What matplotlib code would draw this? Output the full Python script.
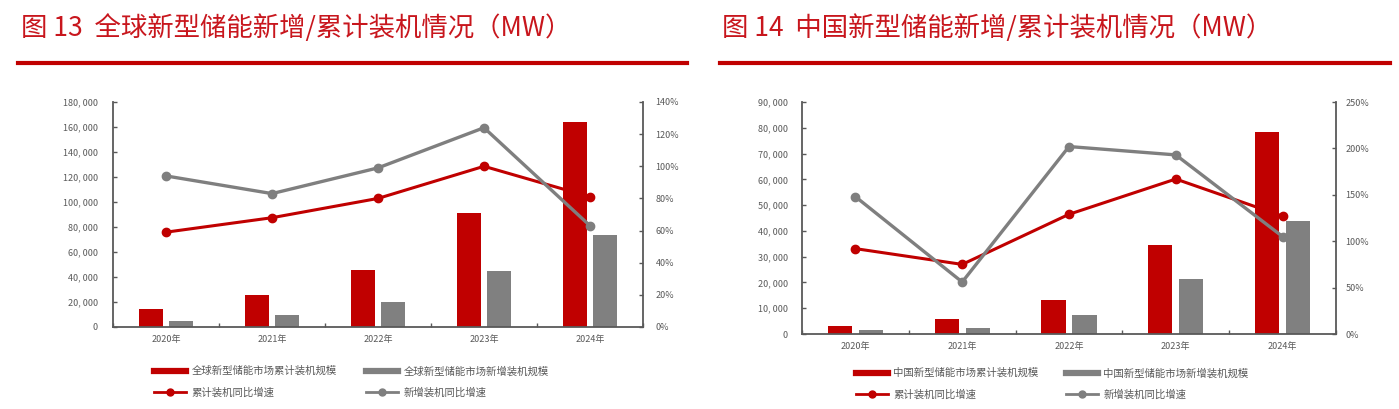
import matplotlib
matplotlib.use("Agg")
import matplotlib.pyplot as plt
from matplotlib.lines import Line2D
from matplotlib.ticker import FuncFormatter, MultipleLocator, FixedLocator
import numpy as np

plt.rcParams['font.family'] = ['Noto Sans CJK SC', 'DejaVu Sans']

# ---------------- data ----------------
years = ['2020年', '2021年', '2022年', '2023年', '2024年']

global_cum = [14200, 25400, 45700, 91300, 164300]
global_new = [5000, 9800, 20000, 45000, 73700]
global_cum_yoy = [59, 68, 80, 100, 81]
global_new_yoy = [94, 83, 99, 124, 63]

china_cum = [3280, 5730, 13100, 34500, 78300]
china_new = [1600, 2450, 7300, 21500, 43700]
china_cum_yoy = [92, 75, 129, 167, 127]
china_new_yoy = [148, 56, 202, 193, 105]

titles = ['图 13  全球新型储能新增/累计装机情况（MW）',
          '图 14  中国新型储能新增/累计装机情况（MW）']
labels_global = ['全球新型储能市场累计装机规模', '全球新型储能市场新增装机规模',
                 '累计装机同比增速', '新增装机同比增速']
labels_china = ['中国新型储能市场累计装机规模', '中国新型储能市场新增装机规模',
                '累计装机同比增速', '新增装机同比增速']

RED = '#C00000'
GRAY = '#808080'
LGRAY = '#7F7F7F'
SPINE = '#595959'
TXT = '#595959'
TITLE_RED = '#C8161D'

W, H = 1399, 409
fig = plt.figure(figsize=(W / 100, H / 100), dpi=100)


def fx(px):
    return px / W


def fy(py):
    return 1 - py / H


def draw_panel(rect, cum, new, cum_yoy, new_yoy, ymax, ystep, pmax, pstep,
               lpad, rpad):
    ax = fig.add_axes(rect)
    ax2 = ax.twinx()
    x = np.arange(len(years))
    bw = 0.225
    off = 0.145
    ax.bar(x - off, cum, width=bw, color=RED, zorder=2)
    ax.bar(x + off, new, width=bw, color=GRAY, zorder=2)
    ax2.plot(x, cum_yoy, color=RED, lw=2.2, marker='o', ms=6, zorder=3)
    ax2.plot(x, new_yoy, color=LGRAY, lw=2.4, marker='o', ms=6, zorder=4)

    ax.set_xlim(-0.5, len(years) - 0.5)
    ax.set_ylim(0, ymax)
    ax2.set_ylim(0, pmax)
    ax.yaxis.set_major_locator(MultipleLocator(ystep))
    ax2.yaxis.set_major_locator(MultipleLocator(pstep))
    ax.yaxis.set_major_formatter(FuncFormatter(
        lambda v, p: f"{int(round(v)):,}".replace(",", ", ")))
    ax2.yaxis.set_major_formatter(FuncFormatter(lambda v, p: f"{int(round(v))}%"))

    ax.set_xticks(x)
    ax.set_xticklabels(years)
    ax.xaxis.set_minor_locator(FixedLocator(np.arange(len(years) + 1) - 0.5))
    ax.tick_params(axis='x', which='major', length=0, pad=6, labelsize=6.5,
                   labelcolor=TXT)
    ax.tick_params(axis='x', which='minor', length=3, direction='in',
                   color=SPINE, width=1)
    ax.tick_params(axis='y', direction='in', length=3, width=1, color=SPINE,
                   pad=lpad, labelsize=6.5, labelcolor=TXT)
    ax2.tick_params(axis='y', direction='in', length=3, width=1, color=SPINE,
                    pad=rpad, labelsize=6.5, labelcolor=TXT)

    for s in ['top', 'right']:
        ax.spines[s].set_visible(False)
    for s in ['top', 'left', 'bottom']:
        ax2.spines[s].set_visible(False)
    for a, s in [(ax, 'left'), (ax, 'bottom'), (ax2, 'right')]:
        a.spines[s].set_color(SPINE)
        a.spines[s].set_linewidth(1.3)
    return ax, ax2


def draw_legend(x_cols, y_top, labels):
    h_bar_r = Line2D([], [], color=RED, lw=4.5)
    h_bar_g = Line2D([], [], color=GRAY, lw=4.5)
    h_ln_r = Line2D([], [], color=RED, lw=2, marker='o', ms=5)
    h_ln_g = Line2D([], [], color=LGRAY, lw=2, marker='o', ms=5)
    cols = [([h_bar_r, h_ln_r], [labels[0], labels[2]]),
            ([h_bar_g, h_ln_g], [labels[1], labels[3]])]
    for xc, (hs, ls) in zip(x_cols, cols):
        leg = fig.legend(hs, ls, loc='upper left',
                         bbox_to_anchor=(fx(xc), fy(y_top)),
                         bbox_transform=fig.transFigure,
                         frameon=False, fontsize=7.5, handlelength=3.1,
                         handletextpad=0.5, labelspacing=1.05,
                         borderpad=0, borderaxespad=0)
        for t in leg.get_texts():
            t.set_color(TXT)


# left panel
draw_panel([fx(113), fy(327), fx(643) - fx(113), fy(102) - fy(327)],
           global_cum, global_new, global_cum_yoy, global_new_yoy,
           180000, 20000, 140, 20, lpad=11, rpad=9)
# right panel
draw_panel([fx(802), fy(334), fx(1336) - fx(802), fy(102) - fy(334)],
           china_cum, china_new, china_cum_yoy, china_new_yoy,
           90000, 10000, 250, 50, lpad=10, rpad=7)

draw_legend([154, 366], 366, labels_global)
draw_legend([856, 1066], 368, labels_china)

# titles and red rules
fig.text(fx(21), fy(28), titles[0], color=TITLE_RED, fontsize=19,
         va='center', ha='left')
fig.text(fx(722), fy(28), titles[1], color=TITLE_RED, fontsize=19,
         va='center', ha='left')
fig.add_artist(Line2D([fx(18), fx(687)], [fy(63), fy(63)], color=RED, lw=3,
                      transform=fig.transFigure))
fig.add_artist(Line2D([fx(720), fx(1390)], [fy(63), fy(63)], color=RED, lw=3,
                      transform=fig.transFigure))

fig.savefig('out.png', dpi=100)
